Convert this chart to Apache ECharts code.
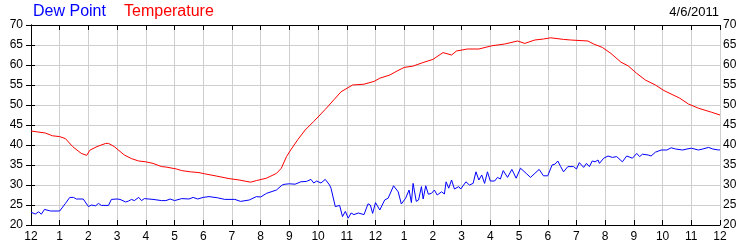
<!DOCTYPE html>
<html>
<head>
<meta charset="utf-8">
<script src="https://cdn.jsdelivr.net/npm/echarts@6/dist/echarts.min.js"></script>
<style>
html,body{margin:0;padding:0;background:#fff;}
#chart{width:750px;height:250px;}
</style>
</head>
<body>
<div id="chart"></div>
<script>
// Hour tick labels (0..24 hours from midnight)
var hourLabels = ['12','1','2','3','4','5','6','7','8','9','10','11','12','1','2','3','4','5','6','7','8','9','10','11','12'];

// Temperature (hours since midnight, °F)
var tempHours  = [0,0.2,0.5,0.75,1.0,1.2,1.45,1.75,1.94,2.05,2.3,2.6,2.7,2.9,3.25,3.5,3.75,4.0,4.25,4.55,4.7,5.07,5.25,5.55,5.85,6.05,6.45,6.9,7.25,7.65,7.85,8.2,8.55,8.72,8.9,9.05,9.3,9.55,9.85,10.25,10.55,10.8,11.2,11.6,11.95,12.15,12.5,12.75,13.0,13.3,13.65,14.0,14.35,14.65,14.82,15.2,15.6,16.05,16.5,16.95,17.2,17.55,17.85,18.1,18.55,18.8,19.4,19.6,19.9,20.2,20.55,20.8,21.1,21.4,21.75,22.05,22.6,22.9,23.25,23.7,24.0];
var tempValues = [43.5,43.3,43.0,42.3,42.1,41.6,39.6,37.9,37.4,38.7,39.6,40.4,40.4,39.6,37.5,36.6,36.0,35.8,35.4,34.6,34.5,34.0,33.6,33.3,33.1,32.8,32.25,31.6,31.25,30.7,31.1,31.7,32.9,34.2,37.1,38.8,41.4,43.75,45.9,48.9,51.3,53.3,55.0,55.2,55.9,56.7,57.5,58.5,59.4,59.7,60.6,61.4,63.1,62.5,63.5,64.0,64.0,64.8,65.25,66.0,65.4,66.25,66.5,66.8,66.4,66.25,66.0,65.25,64.4,62.9,60.7,59.8,57.9,56.25,55.0,53.6,51.7,50.25,49.2,48.2,47.5];

// Dew point (hours since midnight, °F)
var dewHours  = [0,0.05,0.15,0.27,0.36,0.47,0.68,1.0,1.2,1.35,1.48,1.58,1.82,2.0,2.1,2.25,2.35,2.45,2.7,2.8,3.0,3.1,3.3,3.4,3.5,3.6,3.75,3.85,3.95,4.25,4.55,4.7,4.85,5.0,5.25,5.5,5.65,5.8,6.0,6.2,6.5,6.75,7.1,7.3,7.6,7.85,8.0,8.2,8.55,8.75,8.85,8.9,9.0,9.2,9.4,9.6,9.75,9.85,9.95,10.1,10.25,10.4,10.45,10.6,10.75,10.85,10.95,11.05,11.15,11.25,11.4,11.6,11.74,11.82,11.9,12.0,12.15,12.32,12.44,12.63,12.79,12.9,13.05,13.17,13.25,13.31,13.42,13.5,13.6,13.66,13.75,13.84,13.95,14.05,14.15,14.3,14.4,14.46,14.55,14.65,14.75,14.9,14.97,15.15,15.27,15.4,15.5,15.6,15.7,15.8,15.9,16.0,16.15,16.25,16.35,16.45,16.6,16.75,16.9,17.05,17.25,17.4,17.55,17.7,17.85,18.0,18.15,18.25,18.35,18.45,18.55,18.7,18.9,19.0,19.1,19.25,19.35,19.45,19.55,19.65,19.75,19.8,19.95,20.1,20.25,20.4,20.6,20.75,20.95,21.0,21.1,21.2,21.3,21.5,21.6,21.75,21.95,22.15,22.3,22.45,22.7,22.85,23.0,23.25,23.4,23.6,23.75,23.95,24.0];
var dewValues = [23.2,23.3,22.75,23.3,22.7,23.9,23.5,23.5,25.4,26.9,26.9,26.5,26.5,24.6,25.0,24.8,25.4,24.9,24.9,26.4,26.5,26.4,25.75,26.0,26.4,26.1,26.9,26.1,26.6,26.4,26.1,26.1,26.5,26.1,26.6,26.5,26.9,26.5,26.9,27.1,26.8,26.4,26.4,25.9,26.25,27.1,27.0,27.9,28.75,30.0,30.2,29.7,30.3,30.2,30.8,30.9,31.4,30.5,31.0,30.5,31.4,30.0,29.2,24.6,24.9,22.1,23.4,21.7,23.0,22.6,23.0,22.6,25.3,25.0,22.9,25.6,23.75,26.25,26.7,29.8,28.3,25.25,26.7,28.75,25.6,30.4,25.9,26.25,29.6,26.5,29.8,27.7,27.9,28.75,27.5,28.3,27.75,30.8,29.2,31.25,29.0,29.6,29.0,30.8,30.0,30.4,33.3,31.25,32.5,30.4,33.3,31.0,31.0,31.9,31.5,33.6,31.9,33.9,31.7,34.2,32.9,31.9,32.9,33.9,32.3,32.3,35.0,35.2,36.0,34.6,33.3,34.6,34.6,34.0,35.6,34.4,35.4,34.6,36.0,35.8,36.25,35.4,36.7,37.25,36.9,37.1,35.8,37.25,36.7,36.4,37.9,37.1,37.7,37.5,37.25,38.2,38.75,38.75,39.3,39.0,38.75,39.0,39.2,38.75,39.0,39.4,39.0,38.75,38.8];

function pairs(xs, ys){ return xs.map(function(x,i){ return [x, ys[i]]; }); }

var FONT = '"Liberation Sans", Arial, sans-serif';
var chart = echarts.init(document.getElementById('chart'), null, {renderer:'canvas'});
chart.setOption({
  animation: false,
  backgroundColor: '#fff',
  grid: {left: 31, right: 30, top: 25, bottom: 25, containLabel: false},
  graphic: [
    {type:'text', left: 33, top: 4, style:{text:'Dew Point', fill:'#0000ff', font:'16px ' + FONT}},
    {type:'text', left: 124, top: 4, style:{text:'Temperature', fill:'#ff0000', font:'16px ' + FONT}},
    {type:'text', right: 31, top: 6, style:{text:'4/6/2011', fill:'#000', font:'13px ' + FONT}}
  ],
  xAxis: [
    {type:'value', min:0, max:24, interval:1, position:'bottom',
     axisLine:{show:true, lineStyle:{color:'#000', width:1}},
     axisTick:{show:true, inside:true, length:5, lineStyle:{color:'#000'}},
     axisLabel:{show:true, margin:6, color:'#000', fontSize:12, fontFamily:FONT,
       formatter:function(v){ return hourLabels[Math.round(v)]; }},
     splitLine:{show:true, lineStyle:{color:'#cfcfcf', width:1}}},
    {type:'value', min:0, max:24, interval:1, position:'top',
     axisLine:{show:true, lineStyle:{color:'#000', width:1}},
     axisTick:{show:true, inside:true, length:5, lineStyle:{color:'#000'}},
     axisLabel:{show:false}, splitLine:{show:false}}
  ],
  yAxis: [
    {type:'value', min:20, max:70, interval:5, position:'left',
     axisLine:{show:true, lineStyle:{color:'#000', width:1}},
     axisTick:{show:true, inside:true, length:4, lineStyle:{color:'#000'}},
     axisLabel:{show:true, margin:8, color:'#000', fontSize:12, fontFamily:FONT},
     splitLine:{show:true, lineStyle:{color:'#cfcfcf', width:1}}},
    {type:'value', min:20, max:70, interval:5, position:'right',
     axisLine:{show:true, lineStyle:{color:'#000', width:1}},
     axisTick:{show:true, inside:true, length:5, lineStyle:{color:'#000'}},
     axisLabel:{show:true, margin:3, color:'#000', fontSize:12, fontFamily:FONT},
     splitLine:{show:false}}
  ],
  series: [
    {name:'Dew Point', type:'line', xAxisIndex:0, yAxisIndex:0, data:pairs(dewHours, dewValues),
     showSymbol:false, symbol:'none', lineStyle:{color:'#0000ff', width:1}, itemStyle:{color:'#0000ff'}},
    {name:'Temperature', type:'line', xAxisIndex:0, yAxisIndex:0, data:pairs(tempHours, tempValues),
     showSymbol:false, symbol:'none', lineStyle:{color:'#ff0000', width:1}, itemStyle:{color:'#ff0000'}}
  ]
});
</script>
</body>
</html>
